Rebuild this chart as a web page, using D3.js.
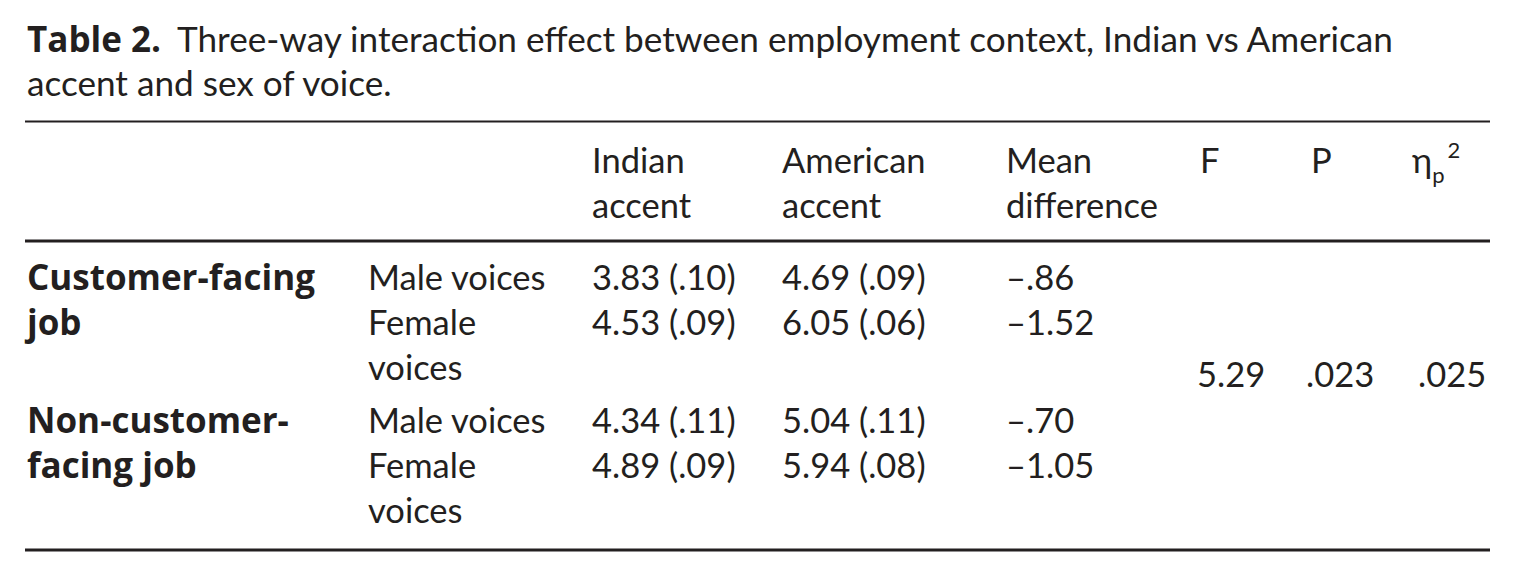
<!DOCTYPE html>
<html>
<head>
<meta charset="utf-8">
<script src="https://cdn.jsdelivr.net/npm/d3@7"></script>
<style>
  body { margin: 0; background: #fff; }
  svg text { font-family: "Gill Sans", Lato, sans-serif; fill: #231f20; }
  svg .bold { font-family: "Gill Sans", "Open Sans", sans-serif; font-weight: bold; }
</style>
</head>
<body>
<svg id="table"></svg>
<script>
"use strict";

// Table caption
const captionLabel = "Table 2.";
const captionLines = [
    "Three-way interaction effect between employment context, Indian vs American",
    "accent and sex of voice."
];

// Column headers (wrapped as in the print)
const headerLines = [
    ["Indian", "accent"],
    ["American", "accent"],
    ["Mean", "difference"],
    ["F"],
    ["P"]
];

// Employment context (row groups)
const contextLines = [["Customer-facing", "job"], ["Non-customer-", "facing job"]];

// Sex of voice, one per row
const voiceLines = [["Male voices"], ["Female", "voices"], ["Male voices"], ["Female", "voices"]];
const voiceContext = [0, 0, 1, 1];

// Means and standard errors
const indianMeans = [3.83, 4.53, 4.34, 4.89];
const indianSE = [0.10, 0.09, 0.11, 0.09];
const americanMeans = [4.69, 6.05, 5.04, 5.94];
const americanSE = [0.09, 0.06, 0.11, 0.08];
const meanDifference = [-0.86, -1.52, -0.70, -1.05];

// Interaction test
const fValue = 5.29;
const pValue = 0.023;
const etaSquared = 0.025;

const width = 1516, height = 577;
const fontSize = 34.5, boldSize = 35, lineHeight = 45;

const svg = d3.select("#table")
    .attr("width", width)
    .attr("height", height);

// Drop the leading zero the way the journal prints it
const noZero = (v, digits) => {
    const s = Math.abs(v).toFixed(digits).replace(/^0/, "");
    return (v < 0 ? "\u2013" : "") + s;
};
const meanSE = (m, se) => `${m.toFixed(2)} (${noZero(se, 2)})`;

// Column positions
const columns = ["context", "voice", "indian", "american", "diff", "f", "p", "eta"];
const colX = d3.scaleOrdinal()
    .domain(columns)
    .range([27, 368, 592, 782, 1006, 1200, 1311, 1412]);

// Rules
const ruleX = d3.scaleLinear().domain([0, 1]).range([25, 1490]);
const rules = [{y: 121.5, w: 2.2}, {y: 241, w: 2.8}, {y: 550, w: 2.8}];
svg.selectAll("line.rule")
    .data(rules)
    .join("line")
    .attr("class", "rule")
    .attr("x1", ruleX(0))
    .attr("x2", ruleX(1))
    .attr("y1", (d) => d.y)
    .attr("y2", (d) => d.y)
    .attr("stroke", "#231f20")
    .attr("stroke-width", (d) => d.w);

// Caption: the first line is fitted to the printed line length
const caption = svg.append("text")
    .attr("x", 27)
    .attr("y", 52);
caption.append("tspan").attr("class", "bold")
    .style("font-size", `${boldSize}px`)
    .text(captionLabel);
const captionRest = caption.append("tspan").attr("dx", 16)
    .style("font-size", `${fontSize}px`)
    .text(captionLines[0]);
const labelWidth = caption.select("tspan").node().getComputedTextLength();
const restWidth = captionRest.node().getComputedTextLength();
const captionSize = fontSize * (1393 - 27 - labelWidth - 16) / restWidth;
captionRest.style("font-size", `${captionSize}px`);
svg.append("text")
    .attr("x", 27)
    .attr("y", 96)
    .style("font-size", `${captionSize}px`)
    .text(captionLines[1]);

// Multi-line cell helper
function cell(g, lines, x, y, bold) {
    const t = g.append("text")
        .attr("x", x)
        .attr("y", y)
        .attr("class", bold ? "bold" : null)
        .style("font-size", `${bold ? boldSize : fontSize}px`);
    t.selectAll("tspan")
        .data(lines)
        .join("tspan")
        .attr("x", x)
        .attr("dy", (d, i) => i === 0 ? 0 : lineHeight)
        .text((d) => d);
    return t;
}

// Header
const header = svg.append("g");
const headerBaseline = 173;
["indian", "american", "diff", "f", "p"].forEach((key, i) => {
    cell(header, headerLines[i], colX(key), headerBaseline, false);
});
const eta = header.append("text")
    .attr("x", colX("eta"))
    .attr("y", headerBaseline)
    .style("font-size", `${fontSize}px`);
eta.append("tspan").text("\u03b7");
eta.append("tspan").attr("dy", 10).style("font-size", "22px").text("p");
eta.append("tspan").attr("dy", -25).attr("dx", 3).style("font-size", "22px").text("2");

// Row baselines: each row takes as many lines as its tallest cell
const rowY = [];
let y = 290;
voiceLines.forEach((lines, i) => {
    rowY.push(y);
    y += lines.length * lineHeight + (i === 1 ? 8 : 0);
});

const body = svg.append("g");
contextLines.forEach((lines, c) => {
    cell(body, lines, colX("context"), rowY[voiceContext.indexOf(c)], true);
});
voiceLines.forEach((lines, i) => {
    cell(body, lines, colX("voice"), rowY[i], false);
    cell(body, [meanSE(indianMeans[i], indianSE[i])], colX("indian"), rowY[i], false);
    cell(body, [meanSE(americanMeans[i], americanSE[i])], colX("american"), rowY[i], false);
    cell(body, [noZero(meanDifference[i], 2)], colX("diff"), rowY[i], false);
});

// Interaction statistics, centred vertically on the body
const statY = 387;
cell(body, [fValue.toFixed(2)], colX("f") - 3, statY, false);
cell(body, [noZero(pValue, 3)], colX("p") - 5, statY, false);
cell(body, [noZero(etaSquared, 3)], colX("eta") + 6, statY, false);
</script>
</body>
</html>
